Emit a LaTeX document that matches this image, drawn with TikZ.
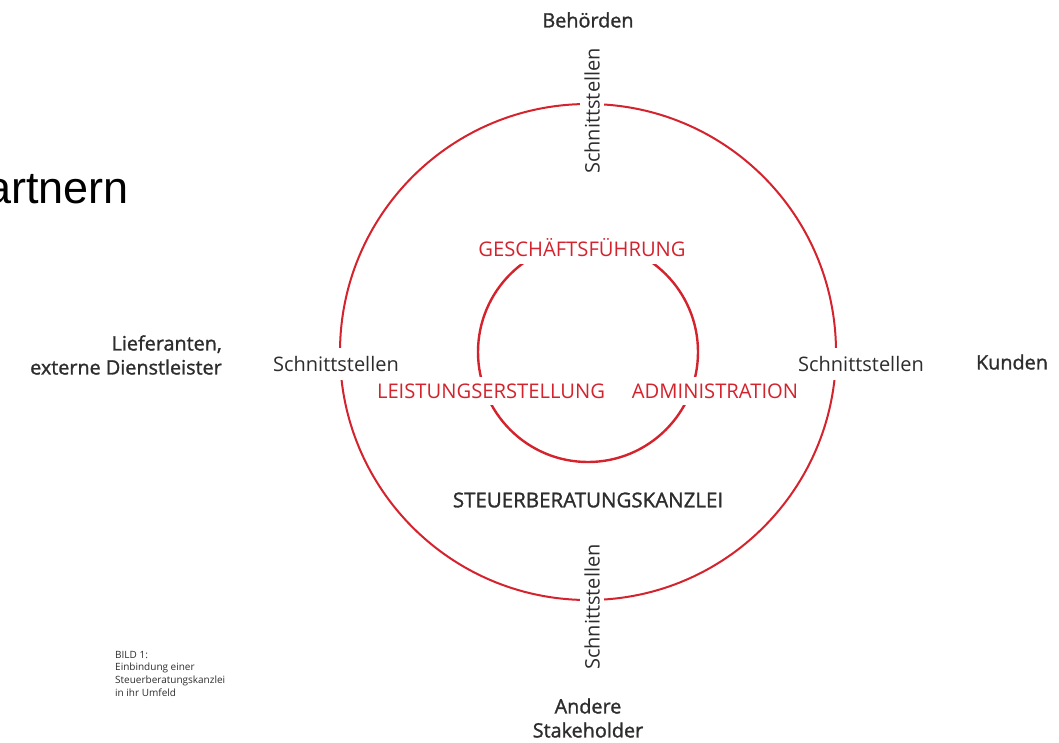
\documentclass[tikz,border=0pt]{standalone}
\usepackage{fontspec}
\setmainfont{Open Sans}
\newfontfamily\arialfont{Liberation Sans}
\definecolor{kred}{RGB}{212,35,45}
\definecolor{ktext}{RGB}{45,45,45}
\tikzset{
  ring/.style={draw=kred, line width=2pt},
  innerring/.style={draw=kred, line width=2.4pt},
  iface/.style={fill=white, text=ktext, font=\fontsize{20}{22}\selectfont, inner xsep=2pt, inner ysep=8pt},
  ifacev/.style={iface, rotate=90, inner ysep=4pt},
  func/.style={fill=white, text=kred, font=\fontsize{20.2}{22}\selectfont, inner xsep=2pt, inner ysep=7pt},
  outer/.style={text=ktext, font=\fontsize{19.8}{24}\selectfont\addfontfeature{FakeBold=1.3}, inner sep=0pt},
}
\begin{document}
\begin{tikzpicture}[x=1pt, y=-1pt]
\useasboundingbox (0,0) rectangle (1059,742);
\fill[white] (0,0) rectangle (1059,742);
\coordinate (c) at (588,352);
\draw[ring] (c) circle[radius=248pt];
\draw[innerring] (c) circle[radius=110pt];
% interfaces
\node[ifacev] (st) at (592,111) {Schnittstellen};
\node[ifacev] (sb) at (592,607) {Schnittstellen};
\node[iface] (sl) at (336,364) {Schnittstellen};
\node[iface] (sr) at (861,364) {Schnittstellen};
% functions
\node[func] (gf) at (582,248) {GESCHÄFTSFÜHRUNG};
\node[func] (le) at (491,391) {LEISTUNGSERSTELLUNG};
\node[func] (ad) at (715,391) {ADMINISTRATION};
\node[outer, font=\fontsize{20.5}{24}\selectfont\addfontfeature{FakeBold=1.3}] (kz) at (588,500) {STEUERBERATUNGSKANZLEI};
% environment
\node[outer] (beh) at (588,20) {Behörden};
\node[outer] (kun) at (1012,362) {Kunden};
\node[outer, align=right, anchor=east] (lief) at (222,355) {Lieferanten,\\externe Dienstleister};
\node[outer, align=center] (and) at (588,718) {Andere\\Stakeholder};
% fragments
\node[anchor=base west, inner sep=0pt, font=\arialfont\fontsize{45}{50}\selectfont] (part) at (-14,203) {artnern};
\node[anchor=north west, align=left, inner sep=0pt, text=ktext, font=\fontsize{10}{12.6}\selectfont] (cap) at (115,651) {BILD 1:\\Einbindung einer\\Steuerberatungskanzlei\\in ihr Umfeld};
\end{tikzpicture}
\end{document}
